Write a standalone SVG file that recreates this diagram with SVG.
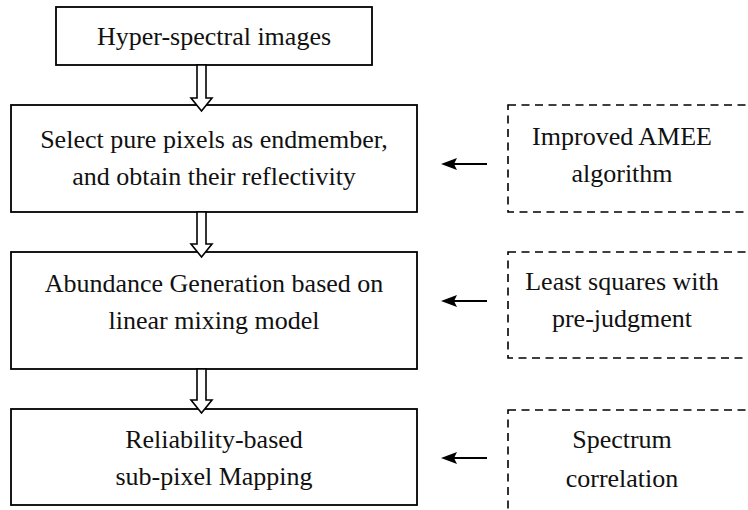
<svg xmlns="http://www.w3.org/2000/svg" width="748" height="510" viewBox="0 0 748 510">
  <defs>
    <style>
      .box { fill: #ffffff; stroke: #000000; stroke-width: 1.8; }
      .dash { fill: none; stroke: #000000; stroke-width: 1.6; stroke-dasharray: 8 5.5; }
      .label { font-family: "Liberation Serif", "Times New Roman", Tinos, "DejaVu Serif", serif; font-size: 26px; fill: #111111; text-anchor: middle; }
      .hollow { fill: #ffffff; stroke: #000000; stroke-width: 1.6; stroke-linejoin: miter; }
      .link { stroke: #000000; stroke-width: 2.2; fill: none; }
      .head { fill: #000000; }
    </style>
    <marker id="arrowhead" viewBox="0 0 16 12" refX="9" refY="6" markerWidth="16" markerHeight="12" markerUnits="userSpaceOnUse" orient="auto">
      <path class="head" d="M0,0 L16,6 L0,12 L3,6 Z"/>
    </marker>
  </defs>

  <!-- main pipeline -->
  <g id="node-hyperspectral">
    <rect class="box" x="56" y="7" width="316" height="58"/>
    <text class="label" x="214" y="45">Hyper-spectral images</text>
  </g>

  <g id="node-endmember">
    <rect class="box" x="11" y="105" width="406" height="107"/>
    <text class="label" x="214" y="148">Select pure pixels as endmember,</text>
    <text class="label" x="214" y="185">and obtain their reflectivity</text>
  </g>

  <g id="node-abundance">
    <rect class="box" x="11" y="252" width="406" height="117"/>
    <text class="label" x="214" y="292">Abundance Generation based on</text>
    <text class="label" x="214" y="329">linear mixing model</text>
  </g>

  <g id="node-mapping">
    <rect class="box" x="11" y="409" width="406" height="96"/>
    <text class="label" x="214" y="448">Reliability-based</text>
    <text class="label" x="214" y="485">sub-pixel Mapping</text>
  </g>

  <!-- supporting methods (dashed) -->
  <g id="method-amee">
    <rect class="dash" x="508" y="105" width="260" height="107"/>
    <text class="label" x="622" y="145">Improved AMEE</text>
    <text class="label" x="622" y="182">algorithm</text>
  </g>

  <g id="method-least-squares">
    <rect class="dash" x="508" y="252" width="260" height="106"/>
    <text class="label" x="622" y="290">Least squares with</text>
    <text class="label" x="622" y="327">pre-judgment</text>
  </g>

  <g id="method-spectrum">
    <rect class="dash" x="508" y="410" width="260" height="120"/>
    <text class="label" x="622" y="448">Spectrum</text>
    <text class="label" x="622" y="487">correlation</text>
  </g>

  <!-- connectors: hollow block arrows down the pipeline, solid arrows from each method -->
  <g id="connectors">
    <path class="hollow" d="M197,65 L206,65 L206,98 L212,98 L201.5,111 L191,98 L197,98 Z"/>
    <path class="hollow" d="M197,212 L206,212 L206,244 L212,244 L201.5,257 L191,244 L197,244 Z"/>
    <path class="hollow" d="M197,369 L206,369 L206,400 L212,400 L201.5,413 L191,400 L197,400 Z"/>

    <line class="link" x1="487" y1="164" x2="448" y2="164" marker-end="url(#arrowhead)"/>
    <line class="link" x1="487" y1="301" x2="448" y2="301" marker-end="url(#arrowhead)"/>
    <line class="link" x1="487" y1="458" x2="448" y2="458" marker-end="url(#arrowhead)"/>
  </g>
</svg>
